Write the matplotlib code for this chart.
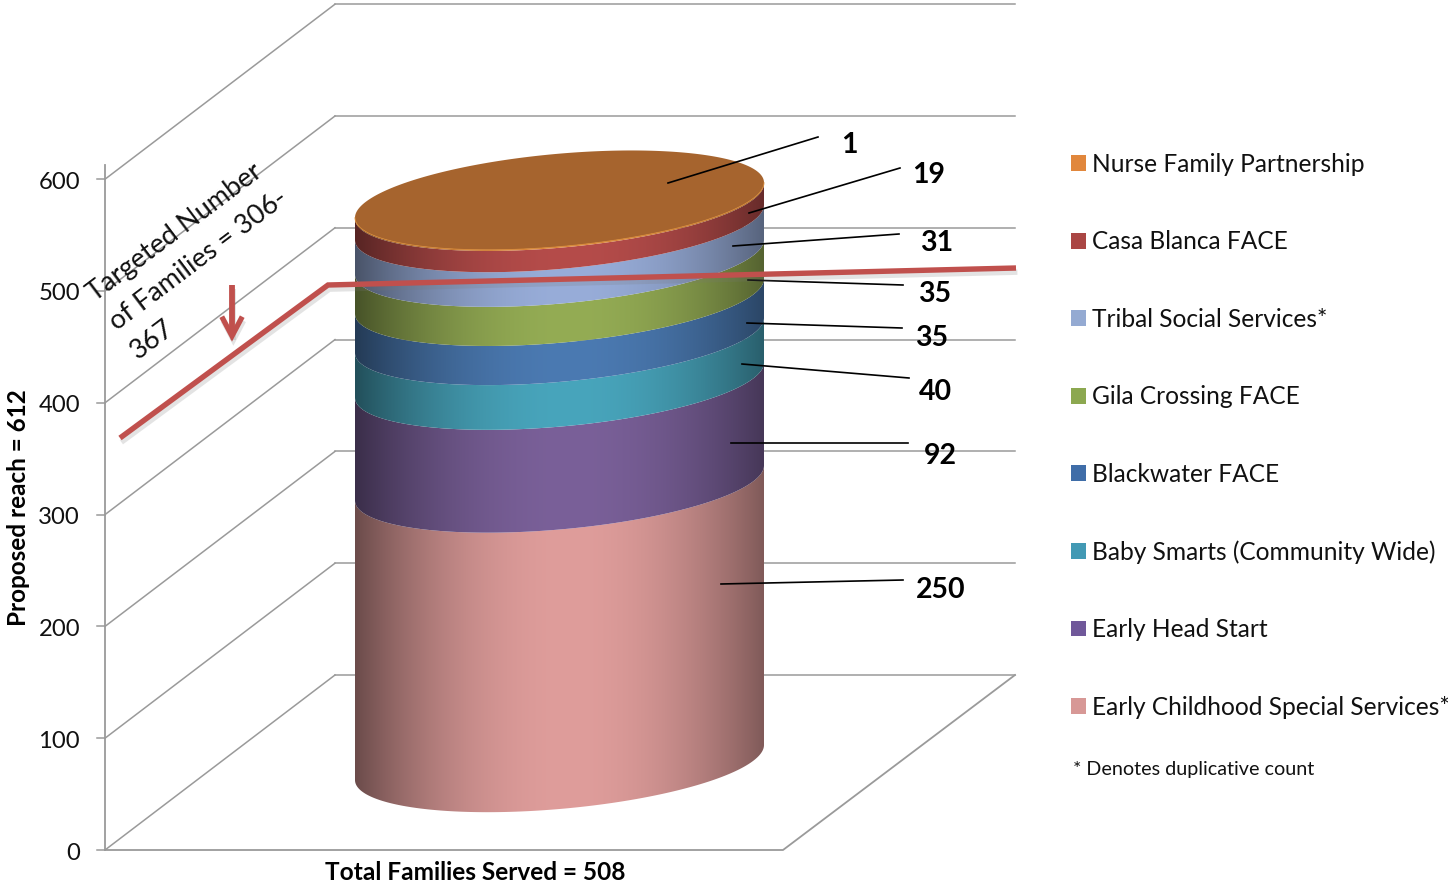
import numpy as np
import matplotlib
matplotlib.use('Agg')
import matplotlib.pyplot as plt
import matplotlib.patheffects as pe
from matplotlib.patches import Polygon, Patch
from matplotlib.colors import ListedColormap

# stacked from the bottom up
programs = ['Early Childhood Special Services*', 'Early Head Start', 'Baby Smarts (Community Wide)',
            'Blackwater FACE', 'Gila Crossing FACE', 'Tribal Social Services*',
            'Casa Blanca FACE', 'Nurse Family Partnership']
families = [250, 92, 40, 35, 35, 31, 19, 1]
side_colors = ['#df9d9b', '#7a6099', '#48a5bc', '#4b7ab2', '#94ac54', '#98add9', '#b54c4a', '#e0873c']
legend_colors = ['#d79896', '#70589a', '#4299b4', '#3f6da8', '#8ca850', '#94aad2', '#aa4644', '#e1873c']
yticks = [0, 100, 200, 300, 400, 500, 600]

plt.rcParams['font.family'] = ['Lato', 'DejaVu Sans']

fig = plt.figure(figsize=(14.48, 8.83), dpi=100)
ax = fig.add_axes([0, 0, 1, 1])

GRID = '#9a9a9a'
PX_PER_UNIT = 1.118

# oblique box: front floor edge, plus a shift for the depth of the box
def vy(v, depth=0.0):
    return 850 - PX_PER_UNIT * v - 175 * depth

def vx(x, depth=0.0):
    return x + 230 * depth

# walls and floor
for v in yticks:
    ax.plot([vx(105), vx(105, 1)], [vy(v), vy(v, 1)], color=GRID, lw=1.1, zorder=1)
    ax.plot([vx(105, 1), 1015], [vy(v, 1), vy(v, 1)], color=GRID, lw=1.1, zorder=1)
    ax.plot([97, 105], [vy(v), vy(v)], color=GRID, lw=1.1, zorder=1)
    ax.text(80, vy(v) + 3, str(v), ha='right', va='center', fontsize=17.2, color='#111111')
ax.plot([105, 105], [vy(0), 165], color=GRID, lw=1.3, zorder=1)
ax.plot([105, 783, 1015], [850, 850, 675], color=GRID, lw=1.3, zorder=1)

# cylinder
cx = vx(444.5, 0.5)
rx = 204.5
ry = 46.5
tilt = 17.5
t = np.linspace(0, np.pi, 200)

def front_arc(v):
    return cx + rx * np.cos(t), vy(v, 0.5) - tilt * np.cos(t) + ry * np.sin(t)

u = np.linspace(-1, 1, 400)
shade = 1 - 0.52 * np.abs((u - 0.05) / 1.05) ** 2.0

tops = np.cumsum(families)
bottoms = tops - np.array(families)
for lo, hi, col in zip(bottoms, tops, side_colors):
    xb, yb = front_arc(lo)
    xt, yt = front_arc(hi)
    poly = Polygon(np.r_[np.c_[xb, yb], np.c_[xt, yt][::-1]], closed=True, fc='none', ec='none',
                   transform=ax.transData)
    ax.add_patch(poly)
    rgb = np.array(matplotlib.colors.to_rgb(col))
    cmap = ListedColormap(np.outer(shade, rgb))
    im = ax.imshow(u[None, :], extent=(cx - rx, cx + rx, yb.max() + 1, yt.min() - 60), aspect='auto',
                   cmap=cmap, vmin=-1, vmax=1, zorder=3, interpolation='bilinear')
    im.set_clip_path(poly)

# lid
tt = np.linspace(0, 2 * np.pi, 400)
lid_x = cx + rx * np.cos(tt)
lid_y = vy(tops[-1], 0.5) - tilt * np.cos(tt) + ry * np.sin(tt)
ax.add_patch(Polygon(np.c_[lid_x, lid_y], closed=True, fc='#a6642e', ec='none', zorder=4))
ax.plot(*front_arc(tops[-1]), color='#d98a35', lw=0.6, zorder=4)

# value labels and leader lines, hand placed in the original
leaders = [((721, 584), (903, 580)), ((731, 443), (908, 443)), ((742, 364), (909, 378)),
           ((747, 323), (902, 328)), ((748, 280), (903, 285)), ((733, 246), (899, 234)),
           ((749, 213), (900, 168)), ((668, 183), (818, 137))]
label_pos = [(941, 590), (940, 456), (935, 392), (932, 338), (935, 294), (937, 243), (929, 175), (849, 145)]
for (p0, p1), (lx, ly), val in zip(leaders, label_pos, families):
    ax.plot([p0[0], p1[0]], [p0[1], p1[1]], color='black', lw=1.2, zorder=5)
    ax.text(lx, ly, str(val), ha='center', va='center', fontsize=20.5, fontweight='bold', color='black', zorder=7)

# target line and arrow
shadow = [pe.SimpleLineShadow(offset=(1, -3), shadow_color='#777777', alpha=0.2), pe.Normal()]
ax.plot([120, 328, 1016], [438, 285, 268], color='#c0504d', lw=3.9, solid_joinstyle='miter',
        solid_capstyle='butt', zorder=6, path_effects=shadow)
ax.plot([232, 232], [285, 336], color='#c0504d', lw=4.2, solid_capstyle='butt', zorder=6, path_effects=shadow)
ax.plot([223, 232, 241], [319, 336, 319], color='#c0504d', lw=3.8, zorder=6, solid_joinstyle='miter',
        path_effects=shadow)
ax.text(112, 325, 'Targeted Number\nof Families = 306-\n367', rotation=37, rotation_mode='anchor',
        ha='left', va='center', multialignment='left', fontsize=19.5, linespacing=1.54, color='#111111', zorder=7)

# axis titles
ax.text(475, 873, 'Total Families Served = 508', ha='center', va='center', fontsize=17.6, fontweight='bold')
ax.text(19, 508, 'Proposed reach = 612', ha='center', va='center', rotation=90, fontsize=17.5, fontweight='bold')

# legend, top of the stack first
handles = [Patch(fc=c, ec='none') for c in legend_colors[::-1]]
ax.legend(handles, programs[::-1], loc='upper left', bbox_to_anchor=(1071, 153), bbox_transform=ax.transData,
          frameon=False, fontsize=17.65, handlelength=0.62, handleheight=0.62, handletextpad=0.24,
          labelspacing=2.22, borderpad=0, borderaxespad=0, labelcolor='#111111')
ax.text(1073, 770, '* Denotes duplicative count', ha='left', va='center', fontsize=14.2, color='#111111')

ax.set_xlim(0, 1448)
ax.set_ylim(883, 0)
ax.axis('off')
fig.savefig('out.png', dpi=100)
